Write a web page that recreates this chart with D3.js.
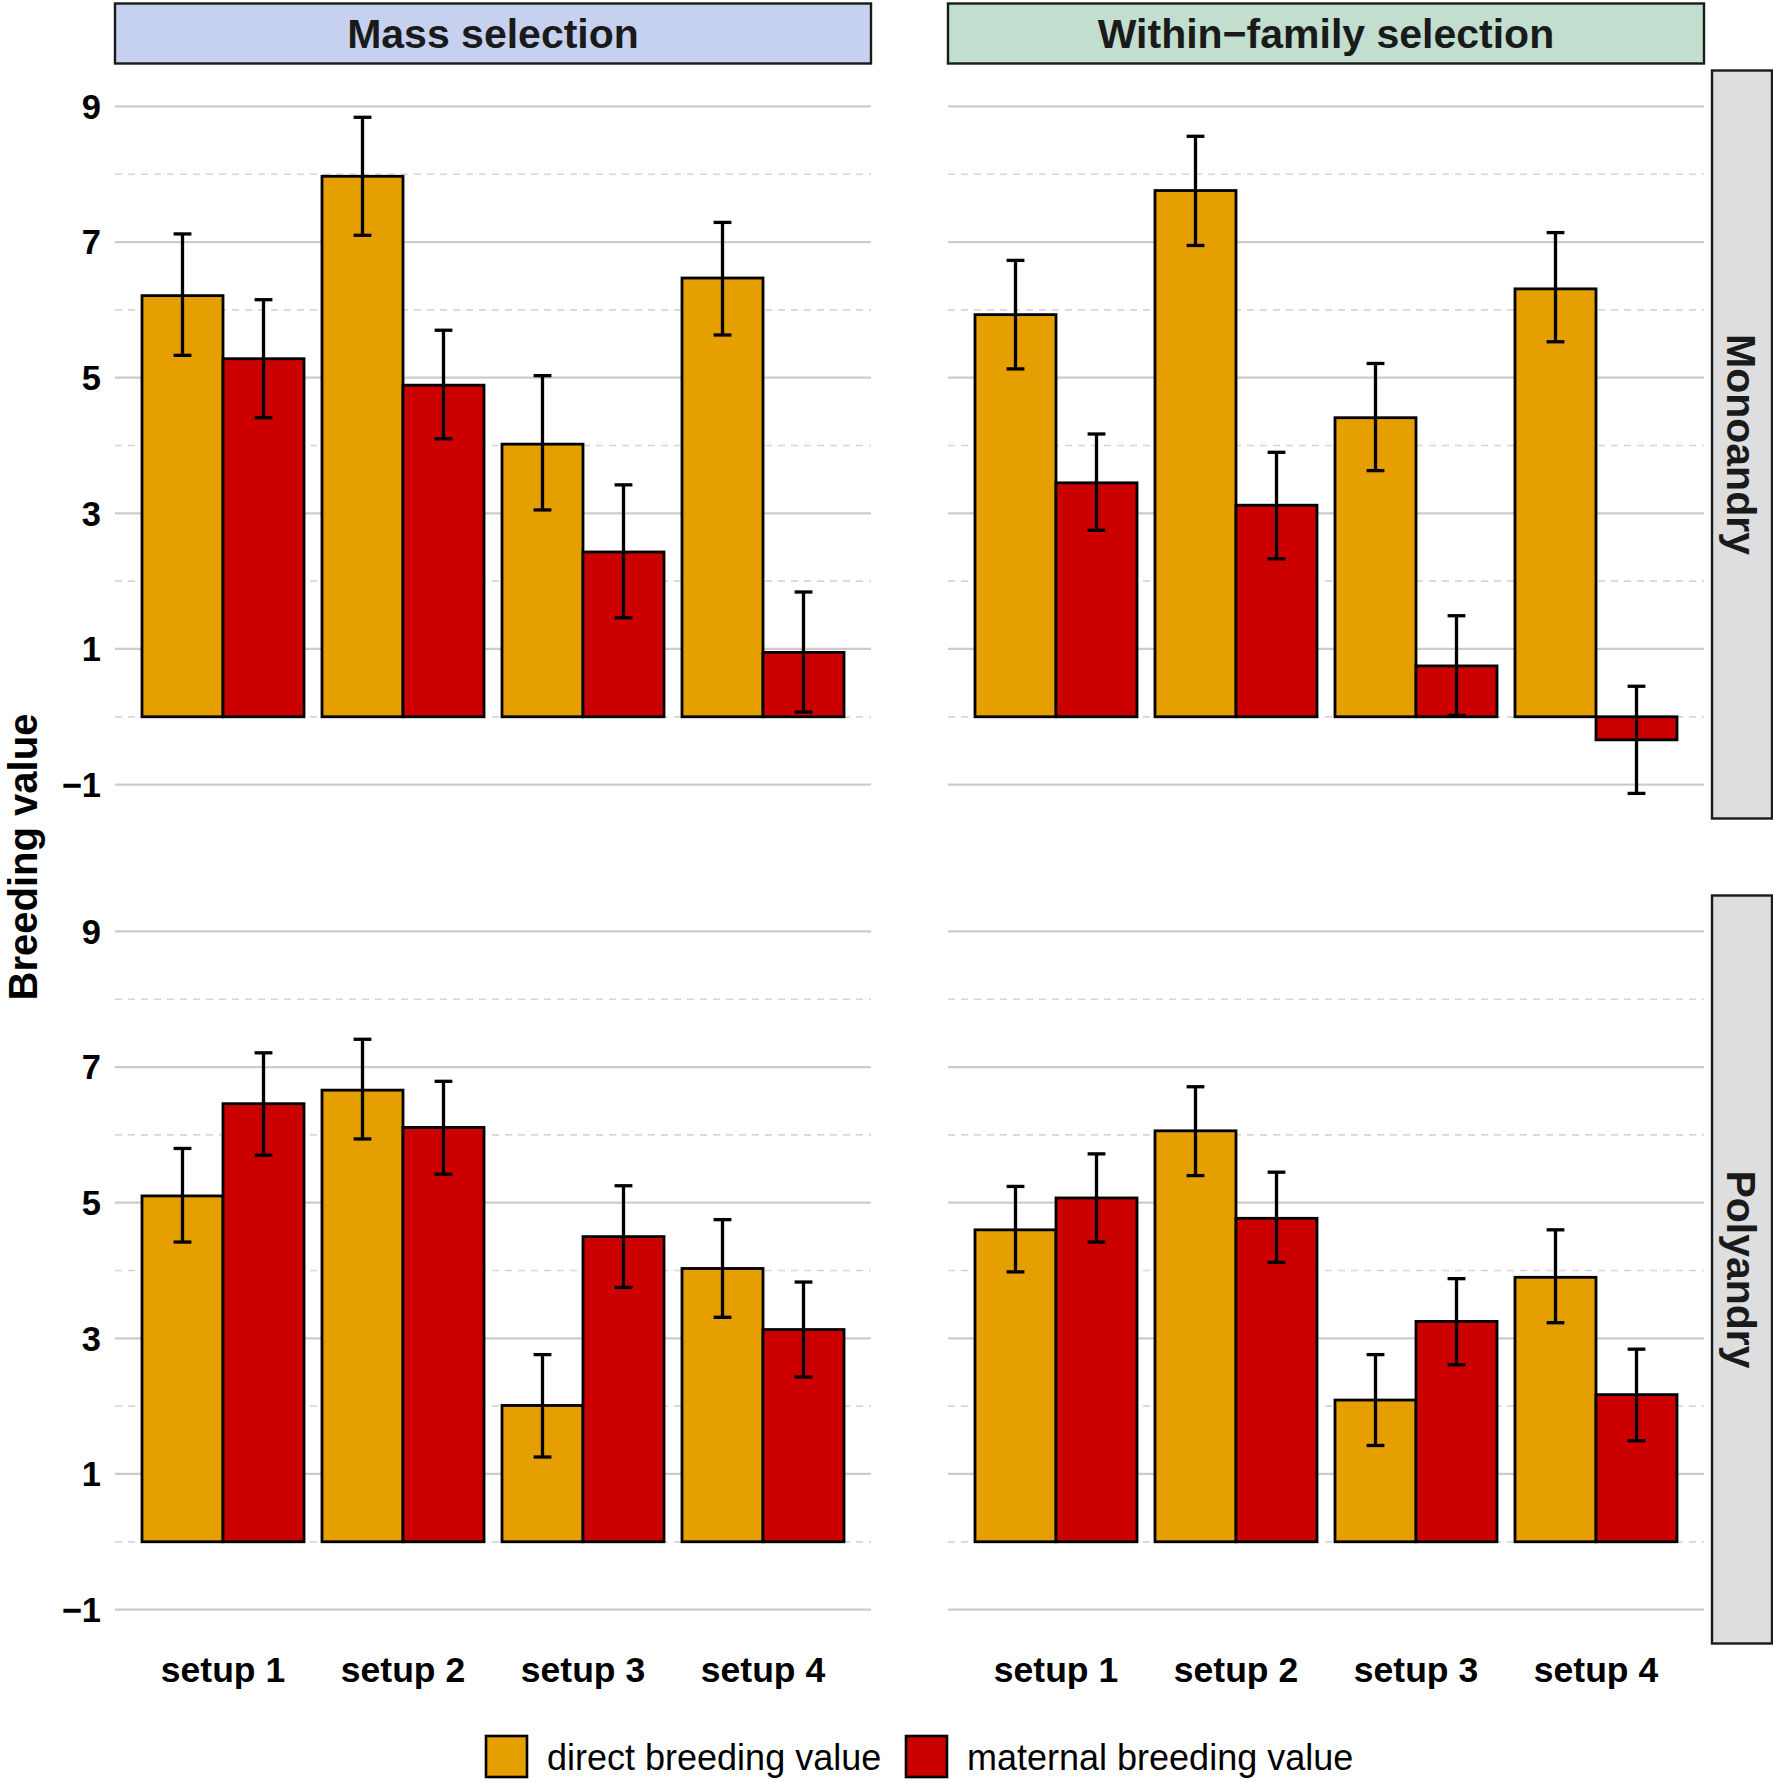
<!DOCTYPE html>
<html>
<head>
<meta charset="utf-8">
<script src="https://cdn.jsdelivr.net/npm/d3@7"></script>
<style>
  html, body { margin: 0; padding: 0; background: #fff; }
  svg { display: block; font-family: "Liberation Sans", Arial, sans-serif; }
</style>
</head>
<body>
<div id="chart"></div>
<script>
const setups = ["setup 1", "setup 2", "setup 3", "setup 4"]
const selections = ["Mass selection", "Within\u2212family selection"]
const matings = ["Monoandry", "Polyandry"]
const components = ["direct breeding value", "maternal breeding value"]
const yTicks = [-1, 1, 3, 5, 7, 9]
const yMinor = [0, 2, 4, 6, 8]

// Mass selection, monoandry
const massMonoDirect = [6.21, 7.97, 4.02, 6.47]
const massMonoDirectLo = [5.33, 7.10, 3.05, 5.63]
const massMonoDirectHi = [7.12, 8.84, 5.03, 7.29]
const massMonoMaternal = [5.28, 4.89, 2.43, 0.95]
const massMonoMaternalLo = [4.41, 4.10, 1.46, 0.07]
const massMonoMaternalHi = [6.15, 5.70, 3.42, 1.84]

// Within-family selection, monoandry
const withinMonoDirect = [5.93, 7.76, 4.41, 6.31]
const withinMonoDirectLo = [5.13, 6.95, 3.63, 5.53]
const withinMonoDirectHi = [6.73, 8.56, 5.21, 7.14]
const withinMonoMaternal = [3.45, 3.12, 0.75, -0.34]
const withinMonoMaternalLo = [2.75, 2.33, 0.02, -1.13]
const withinMonoMaternalHi = [4.17, 3.90, 1.49, 0.45]

// Mass selection, polyandry
const massPolyDirect = [5.10, 6.66, 2.01, 4.03]
const massPolyDirectLo = [4.42, 5.94, 1.25, 3.31]
const massPolyDirectHi = [5.80, 7.41, 2.76, 4.75]
const massPolyMaternal = [6.46, 6.11, 4.50, 3.13]
const massPolyMaternalLo = [5.70, 5.42, 3.75, 2.43]
const massPolyMaternalHi = [7.21, 6.79, 5.25, 3.83]

// Within-family selection, polyandry
const withinPolyDirect = [4.60, 6.06, 2.09, 3.90]
const withinPolyDirectLo = [3.98, 5.40, 1.42, 3.23]
const withinPolyDirectHi = [5.24, 6.71, 2.76, 4.60]
const withinPolyMaternal = [5.07, 4.77, 3.25, 2.17]
const withinPolyMaternalLo = [4.42, 4.12, 2.61, 1.49]
const withinPolyMaternalHi = [5.72, 5.45, 3.88, 2.84]

const panels = [
  {sel: 0, mat: 0, series: [
    [massMonoDirect, massMonoDirectLo, massMonoDirectHi],
    [massMonoMaternal, massMonoMaternalLo, massMonoMaternalHi]]},
  {sel: 1, mat: 0, series: [
    [withinMonoDirect, withinMonoDirectLo, withinMonoDirectHi],
    [withinMonoMaternal, withinMonoMaternalLo, withinMonoMaternalHi]]},
  {sel: 0, mat: 1, series: [
    [massPolyDirect, massPolyDirectLo, massPolyDirectHi],
    [massPolyMaternal, massPolyMaternalLo, massPolyMaternalHi]]},
  {sel: 1, mat: 1, series: [
    [withinPolyDirect, withinPolyDirectLo, withinPolyDirectHi],
    [withinPolyMaternal, withinPolyMaternalLo, withinPolyMaternalHi]]},
]

const width = 1773
const height = 1782
const panelLeft = 115
const panelW = 756
const gapX = 77
const panelTop = 70.5
const panelH = 748
const gapY = 77
const stripTopY = 3.5
const stripTopH = 60
const stripRightGap = 8
const stripRightW = 60

const fill = d3.scaleOrdinal().domain(components).range(["#E69F00", "#CC0000"])
const stripFill = ["#C6D1F0", "#C1DECF"]

const svg = d3.select("#chart").append("svg")
  .attr("width", width)
  .attr("height", height)

const px = i => panelLeft + i * (panelW + gapX)
const py = j => panelTop + j * (panelH + gapY)

// top strips
selections.forEach((s, i) => {
  const g = svg.append("g")
  g.append("rect")
    .attr("x", px(i)).attr("y", stripTopY)
    .attr("width", panelW).attr("height", stripTopH)
    .attr("fill", stripFill[i])
    .attr("stroke", "#1a1a1a").attr("stroke-width", 2.4)
  g.append("text")
    .attr("x", px(i) + panelW / 2).attr("y", stripTopY + stripTopH / 2)
    .attr("dy", "0.36em")
    .attr("text-anchor", "middle")
    .attr("font-size", 41).attr("font-weight", "bold")
    .attr("fill", "#1a1a1a")
    .text(s)
})

// right strips
matings.forEach((m, j) => {
  const x0 = px(1) + panelW + stripRightGap
  const g = svg.append("g")
  g.append("rect")
    .attr("x", x0).attr("y", py(j))
    .attr("width", stripRightW).attr("height", panelH)
    .attr("fill", "#DEDEDE")
    .attr("stroke", "#1a1a1a").attr("stroke-width", 2.4)
  g.append("text")
    .attr("transform", `translate(${x0 + stripRightW / 2},${py(j) + panelH / 2})rotate(90)`)
    .attr("dy", "0.36em")
    .attr("text-anchor", "middle")
    .attr("font-size", 41).attr("font-weight", "bold")
    .attr("fill", "#1a1a1a")
    .text(m)
})

panels.forEach(p => {
  const x0 = px(p.sel), y0 = py(p.mat)
  const x = d3.scaleBand().domain(setups)
    .range([x0, x0 + panelW])
    .paddingInner(0.1).paddingOuter(0.15)
  const xc = d3.scaleBand().domain(components).range([0, x.bandwidth()])
  const y = d3.scaleLinear().domain([-1.5, 9.53]).range([y0 + panelH, y0])

  const g = svg.append("g")

  g.append("g").selectAll("line")
    .data(yMinor)
    .join("line")
      .attr("x1", x0).attr("x2", x0 + panelW)
      .attr("y1", d => y(d)).attr("y2", d => y(d))
      .attr("stroke", "#d6d6d6").attr("stroke-width", 1.7)
      .attr("stroke-dasharray", "7,6")

  g.append("g").selectAll("line")
    .data(yTicks)
    .join("line")
      .attr("x1", x0).attr("x2", x0 + panelW)
      .attr("y1", d => y(d)).attr("y2", d => y(d))
      .attr("stroke", "#cccccc").attr("stroke-width", 2.2)

  const rows = []
  p.series.forEach((s, k) => {
    setups.forEach((st, i) => {
      rows.push({setup: st, comp: components[k], v: s[0][i], lo: s[1][i], hi: s[2][i]})
    })
  })

  g.append("g").selectAll("rect")
    .data(rows)
    .join("rect")
      .attr("x", d => x(d.setup) + xc(d.comp))
      .attr("width", xc.bandwidth())
      .attr("y", d => y(Math.max(0, d.v)))
      .attr("height", d => Math.abs(y(d.v) - y(0)))
      .attr("fill", d => fill(d.comp))
      .attr("stroke", "#000").attr("stroke-width", 2.8)

  const capHalf = xc.bandwidth() * 0.11
  const eg = g.append("g").attr("stroke", "#000").attr("stroke-width", 3.3)
  const cx = d => x(d.setup) + xc(d.comp) + xc.bandwidth() / 2
  eg.selectAll("line.v").data(rows).join("line").attr("class", "v")
    .attr("x1", cx).attr("x2", cx)
    .attr("y1", d => y(d.lo)).attr("y2", d => y(d.hi))
  eg.selectAll("line.hi").data(rows).join("line").attr("class", "hi")
    .attr("x1", d => cx(d) - capHalf).attr("x2", d => cx(d) + capHalf)
    .attr("y1", d => y(d.hi)).attr("y2", d => y(d.hi))
  eg.selectAll("line.lo").data(rows).join("line").attr("class", "lo")
    .attr("x1", d => cx(d) - capHalf).attr("x2", d => cx(d) + capHalf)
    .attr("y1", d => y(d.lo)).attr("y2", d => y(d.lo))

  // y tick labels on left column
  if (p.sel === 0) {
    g.append("g").selectAll("text")
      .data(yTicks)
      .join("text")
        .attr("x", x0 - 14).attr("y", d => y(d))
        .attr("dy", "0.36em")
        .attr("text-anchor", "end")
        .attr("font-size", 34.5).attr("font-weight", "bold")
        .attr("fill", "#000")
        .text(d => d < 0 ? "\u2212" + Math.abs(d) : d)
  }

  // x labels on bottom row
  if (p.mat === 1) {
    g.append("g").selectAll("text")
      .data(setups)
      .join("text")
        .attr("x", d => x(d) + x.bandwidth() / 2)
        .attr("y", y0 + panelH + 13)
        .attr("dy", "0.71em")
        .attr("text-anchor", "middle")
        .attr("font-size", 35.5).attr("font-weight", "bold")
        .attr("fill", "#000")
        .text(d => d)
  }
})

// y axis title
svg.append("text")
  .attr("transform", `translate(23,${py(0) + (panelH * 2 + gapY) / 2})rotate(-90)`)
  .attr("dy", "0.36em")
  .attr("text-anchor", "middle")
  .attr("font-size", 40).attr("font-weight", "bold")
  .attr("fill", "#000")
  .text("Breeding value")

// legend
const legendX = [486, 906]
const leg = svg.append("g")
components.forEach((c, i) => {
  leg.append("rect")
    .attr("x", legendX[i]).attr("y", 1736)
    .attr("width", 41).attr("height", 41)
    .attr("fill", fill(c))
    .attr("stroke", "#000").attr("stroke-width", 2.6)
  leg.append("text")
    .attr("x", legendX[i] + 61).attr("y", 1757)
    .attr("dy", "0.36em")
    .attr("font-size", 36)
    .attr("fill", "#000")
    .text(c)
})
</script>
</body>
</html>
